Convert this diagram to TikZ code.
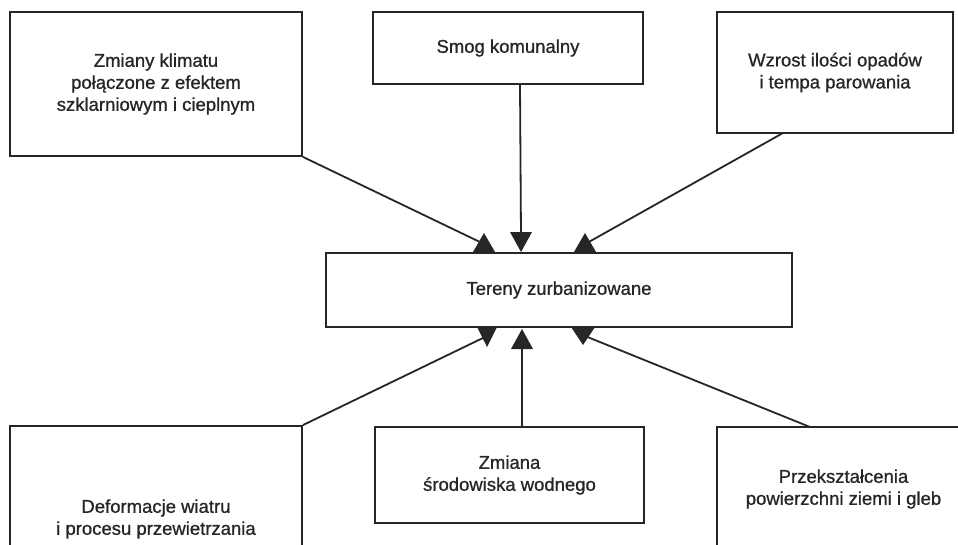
\documentclass[tikz,border=0pt]{standalone}
\usepackage{fontspec}
\setmainfont{Liberation Sans}
\newfontfamily\medfont[FakeBold=0.9]{Liberation Sans}
\usetikzlibrary{calc}
\definecolor{ink}{HTML}{262626}
\definecolor{txt}{HTML}{262626}
\begin{document}
\begin{tikzpicture}[x=1pt,y=-1pt,
  box/.style={draw=ink,line width=1.8pt,rectangle,inner sep=0pt,align=center,
    text=txt,font=\medfont\fontsize{18.5}{22}\selectfont},
  conn/.style={draw=ink,line width=1.8pt},
]
\useasboundingbox (0,0) rectangle (958,544);
\fill[white] (0,0) rectangle (958,544);
\begin{scope}
\clip (0,0) rectangle (958,544);
\node[box,minimum width=292pt,minimum height=144pt] (tl) at (156,84)
  {Zmiany klimatu\\połączone z efektem\\szklarniowym i cieplnym};
\node[box,minimum width=270pt,minimum height=72pt] (smog) at (508,48)
  {Smog komunalny};
\node[box,minimum width=236pt,minimum height=121pt] (wz) at (835,72.5)
  {Wzrost ilości opadów\\i tempa parowania};
\node[box,minimum width=466pt,minimum height=74pt] (ter) at (559,290)
  {Tereny zurbanizowane};
\node[box,minimum width=292pt,minimum height=186pt] (def) at (156,519)
  {Deformacje wiatru\\i procesu przewietrzania};
\node[box,minimum width=269pt,minimum height=96pt] (zm) at (509.5,475)
  {Zmiana\\środowiska wodnego};
\node[box,minimum width=253pt,minimum height=124pt] (prz) at (843.5,489)
  {Przekształcenia\\powierzchni ziemi i gleb};

% named end points
\coordinate (s1) at ($(smog.south)+(12,0)$);
\coordinate (w1) at (783,133);
\coordinate (z1) at ($(zm.north)+(12.5,0)$);
\coordinate (p1) at (810,427);
\coordinate (a1) at (482,243);
\coordinate (a2) at (521,236);
\coordinate (a3) at (587,243);
\coordinate (b1) at (487,336);
\coordinate (b2) at (522,345);
\coordinate (b3) at (585,336);

\draw[conn] (tl.south east) -- (a1);
\draw[conn] (s1) -- (a2);
\draw[conn] (w1) -- (a3);
\draw[conn] (def.north east) -- (b1);
\draw[conn] (z1) -- (b2);
\draw[conn] (p1) -- (b3);

% arrowheads
\fill[ink] (484,233) -- (473,252) -- (495,252) -- cycle;
\fill[ink] (510,232) -- (532,232) -- (521,252) -- cycle;
\fill[ink] (585,233) -- (574,252) -- (596,252) -- cycle;
\fill[ink] (477,327) -- (497,327) -- (487,347) -- cycle;
\fill[ink] (522,329) -- (511,349) -- (533,349) -- cycle;
\fill[ink] (571,327) -- (595,327) -- (583,345) -- cycle;
\end{scope}
\end{tikzpicture}
\end{document}
